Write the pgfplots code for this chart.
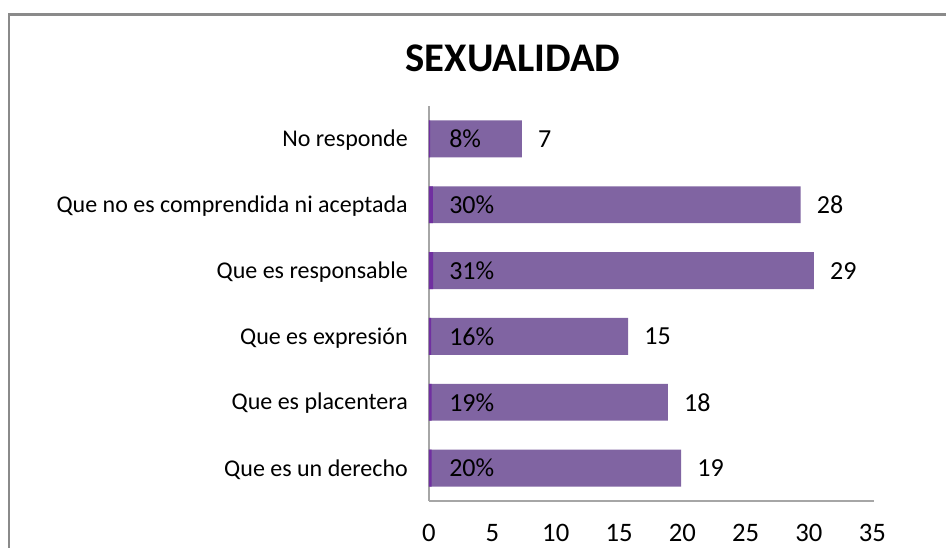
\documentclass[border=0pt]{standalone}
\usepackage{pgfplots}
\pgfplotsset{compat=1.18}
\usepackage{pgfplotstable}
\usepackage{fontspec}
\setmainfont{Carlito}
\definecolor{barpurple}{HTML}{8064A2}
\definecolor{stripe}{HTML}{7030A0}
\definecolor{framegray}{HTML}{8A8A8A}
\definecolor{axisgray}{HTML}{A6A6A6}

\pgfplotstableread[col sep=comma]{
y,count,frac,pct
0,19,0.20,20
1,18,0.19,19
2,15,0.16,16
3,29,0.31,31
4,28,0.30,30
5,7,0.08,8
}\data

\begin{document}
\begin{tikzpicture}
\draw[framegray, line width=1.8pt] (6.75pt,-20pt) -- (6.75pt,399.4pt) -- (720pt,399.4pt);
\node[anchor=base, inner sep=0pt, font=\fontsize{30.5}{36}\selectfont\bfseries] at (384.75pt,356.25pt) {SEXUALIDAD};
\begin{axis}[
 at={(321.75pt,34.5pt)}, anchor=south west,
 scale only axis, width=333.75pt, height=296.25pt,
 xmin=0, xmax=33.53, ymin=-0.5, ymax=5.5,
 axis x line*=bottom, axis y line*=left,
 axis line style={axisgray, line width=1pt},
 major tick length=0pt,
 xtick={0,4.78,9.55,14.32,19.09,23.86,28.63,33.4},
 xticklabels={0,5,10,15,20,25,30,35},
 ytick={0,...,5},
 yticklabels={Que es un derecho, Que es placentera, Que es expresión, Que es responsable, Que no es comprendida ni aceptada, No responde},
 xticklabel style={font=\fontsize{20}{24}\selectfont, anchor=base, inner sep=0pt, yshift=-30.5pt},
 yticklabel style={font=\fontsize{18}{22}\selectfont, anchor=east, inner sep=0pt, xshift=-15.75pt, yshift=-1pt},
 /pgf/number format/assume math mode=true,
 clip=false,
]
\addplot[xbar, bar width=0.56, bar shift=0pt, fill=barpurple, draw=none,
  nodes near coords, point meta=x,
  every node near coord/.append style={font=\fontsize{19.5}{23}\selectfont, anchor=west, inner sep=0pt, xshift=12pt, text=black}]
  table[x=count, y=y] {\data};
\addplot[xbar, bar width=0.56, bar shift=0pt, fill=stripe, draw=none] table[x=frac, y=y] {\data};
\addplot[draw=none, mark=none,
  nodes near coords={\pgfmathprintnumber{\pgfplotspointmeta}\%}, point meta=explicit,
  every node near coord/.append style={font=\fontsize{19.5}{23}\selectfont, anchor=west, inner sep=0pt, xshift=15pt, text=black}]
  table[x expr=0, y=y, meta=pct] {\data};
\end{axis}
\pgfresetboundingbox
\path[use as bounding box] (0,0) rectangle (709.5pt,410.25pt);
\end{tikzpicture}
\end{document}
